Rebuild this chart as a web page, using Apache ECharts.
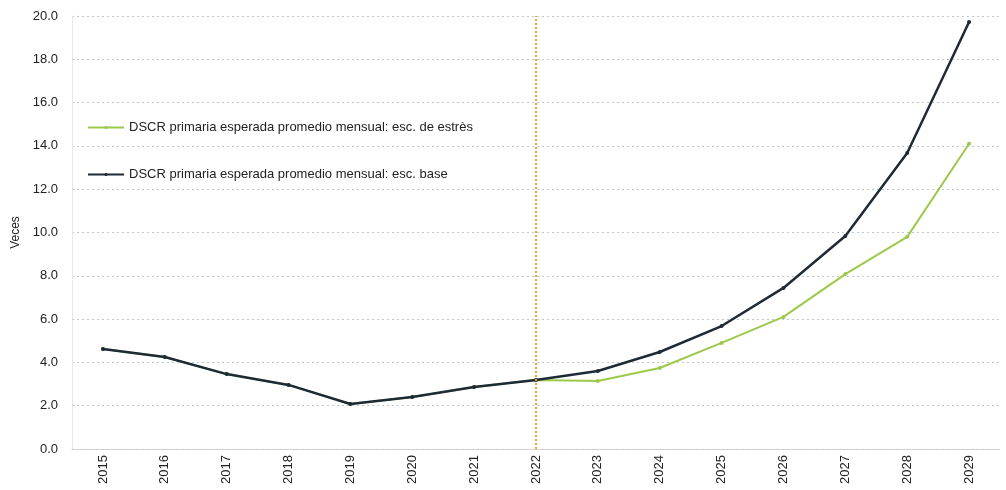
<!DOCTYPE html>
<html><head><meta charset="utf-8">
<script src="https://cdn.jsdelivr.net/npm/echarts@6/dist/echarts.min.js"></script>
<style>html,body{margin:0;padding:0;background:#fff}#c{width:1006px;height:490px}</style>
</head><body><div id="c"></div>
<script>
var years = ['2015','2016','2017','2018','2019','2020','2021','2022','2023','2024','2025','2026','2027','2028','2029'];
var baseValues = [4.62, 4.25, 3.46, 2.96, 2.08, 2.40, 2.86, 3.19, 3.60, 4.48, 5.68, 7.44, 9.84, 13.67, 19.72];
var stressValues = [4.62, 4.25, 3.46, 2.96, 2.08, 2.40, 2.86, 3.19, 3.14, 3.74, 4.90, 6.10, 8.08, 9.80, 14.10];
var stressName = 'DSCR primaria esperada promedio mensual: esc. de estrès';
var baseName = 'DSCR primaria esperada promedio mensual: esc. base';
var markerYear = '2022';
var ff = 'Liberation Sans';
var chart = echarts.init(document.getElementById('c'));
chart.setOption({
  animation: false,
  textStyle: {fontFamily: ff},
  grid: {left: 72, right: 6, top: 16, bottom: 41},
  legend: {
    orient: 'vertical', left: 82, top: 116, itemGap: 34, itemWidth: 36, itemHeight: 4,
    textStyle: {fontFamily: ff, fontSize: 13, color: '#222'},
    data: [stressName, baseName]
  },
  xAxis: {
    type: 'category', data: years, boundaryGap: true,
    axisLine: {lineStyle: {color: '#c8ccd0', type: 'dotted'}},
    axisTick: {show: false},
    axisLabel: {rotate: 90, fontSize: 13, color: '#222', margin: 6, fontFamily: ff}
  },
  yAxis: {
    type: 'value', min: 0, max: 20, interval: 2,
    name: 'Veces', nameLocation: 'middle', nameGap: 48, nameRotate: 90,
    nameTextStyle: {fontSize: 12, color: '#222', fontFamily: ff},
    axisLine: {show: true, lineStyle: {color: '#e0e3e6', type: 'dotted'}},
    axisTick: {show: false},
    axisLabel: {fontSize: 13, color: '#222', margin: 14, fontFamily: ff, formatter: function(v){return v.toFixed(1);}},
    splitLine: {lineStyle: {color: '#bcc8d0', type: [2,3], width: 1}}
  },
  series: [
    {
      name: stressName, type: 'line', data: stressValues,
      symbol: 'circle', symbolSize: 4,
      lineStyle: {color: '#9cc94a', width: 2},
      itemStyle: {color: '#9cc94a'},
      z: 2
    },
    {
      name: baseName, type: 'line', data: baseValues,
      symbol: 'circle', symbolSize: 4,
      lineStyle: {color: '#1e2a35', width: 2.5},
      itemStyle: {color: '#1e2a35'},
      z: 3,
      markLine: {
        silent: true, symbol: 'none', label: {show: false},
        lineStyle: {color: '#f0a23c', type: 'dotted', width: 2},
        data: [{xAxis: markerYear}]
      }
    }
  ]
});
</script></body></html>
